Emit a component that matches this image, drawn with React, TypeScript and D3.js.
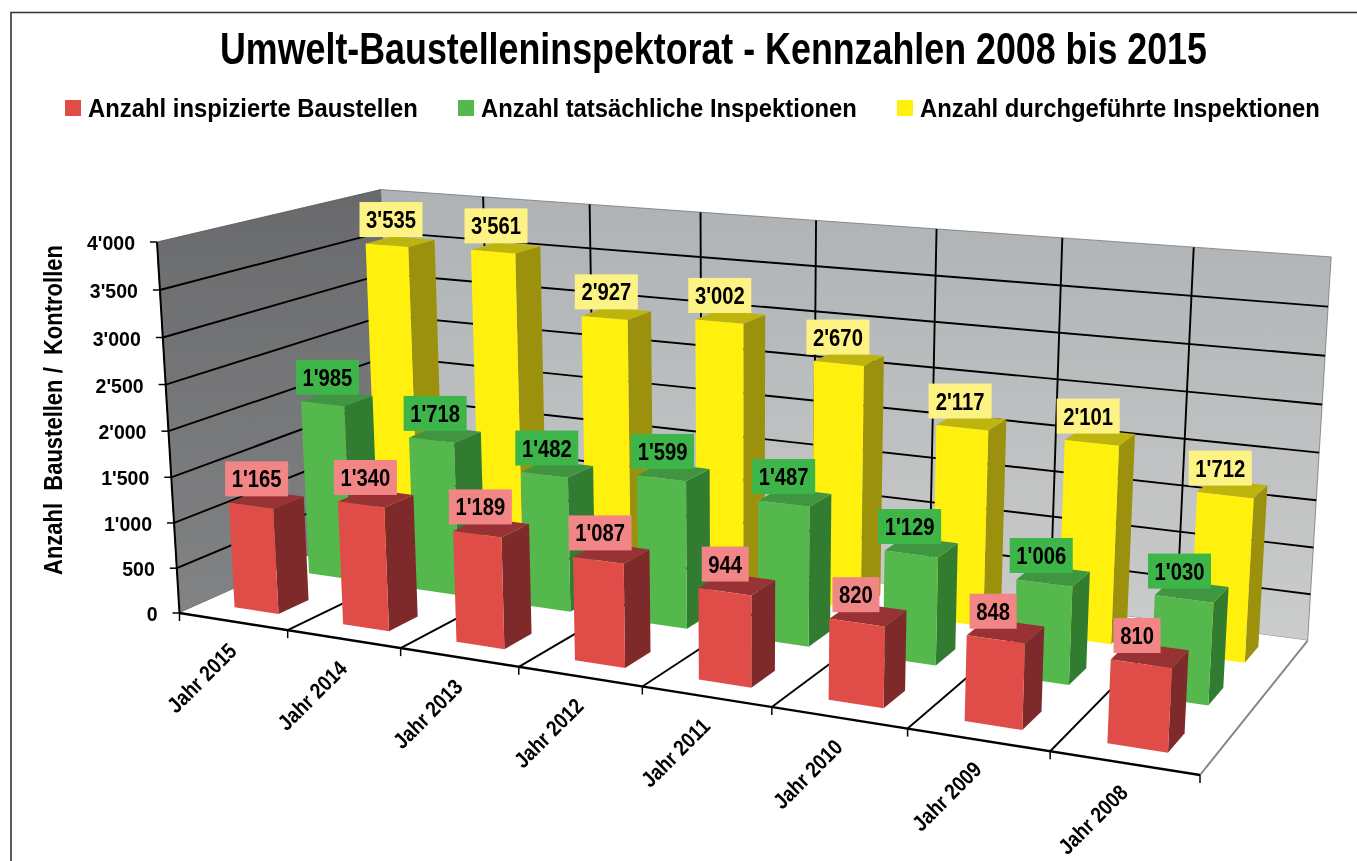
import React from "react";
import * as d3 from "d3";

const years = ["Jahr 2015", "Jahr 2014", "Jahr 2013", "Jahr 2012", "Jahr 2011", "Jahr 2010", "Jahr 2009", "Jahr 2008"];
const seriesNames = ["Anzahl inspizierte Baustellen", "Anzahl tatsächliche Inspektionen", "Anzahl durchgeführte Inspektionen"];
const inspizierte = [1165, 1340, 1189, 1087, 944, 820, 848, 810];
const tatsaechliche = [1985, 1718, 1482, 1599, 1487, 1129, 1006, 1030];
const durchgefuehrte = [3535, 3561, 2927, 3002, 2670, 2117, 2101, 1712];
const yTicks = [0, 500, 1000, 1500, 2000, 2500, 3000, 3500, 4000];
const titleText = "Umwelt-Baustelleninspektorat - Kennzahlen 2008 bis 2015";
const yTitle = "Anzahl  Baustellen /  Kontrollen";

const front = ["#E04E4A", "#55B84E", "#FFF10D"];
const side = ["#7F2A2C", "#317C33", "#9C9110"];
const top = ["#983335", "#3F963F", "#BDB40E"];
const labelBg = ["#F28585", "#3CB54A", "#FDF384"];

const FONT = "'Liberation Sans', Arial, sans-serif";

// Projective camera: model axes X (years), Y (value), Z (depth), all 0..1
const O = [179.5, 613];
const aX = [816.5, 30.25];
const aY = [-28.54, -380.32];
const aZ = [266.8, -24.7];
const wX = -0.17, wY = -0.0385, wZ = 0.1357;
const project = (X: number, Y: number, Z: number): [number, number] => {
  const w = 1 + wX * X + wY * Y + wZ * Z;
  return [
    (O[0] + aX[0] * X + aY[0] * Y + aZ[0] * Z) / w,
    (O[1] + aX[1] * X + aY[1] * Y + aZ[1] * Z) / w,
  ];
};

const xBand = d3.scaleBand<string>().domain(years).range([0, 1]).paddingInner(0.59).paddingOuter(0.295);
const zBand = d3.scaleBand<string>().domain(seriesNames).range([0, 1]).paddingInner(0.6).paddingOuter(0.3);
const yScale = d3.scaleLinear().domain([0, 4000]).range([0, 1]);
const fmt = (v: number) => d3.format(",")(v).replace(/,/g, "'");
const poly = d3.line<[number, number]>();
const face = (pts: [number, number, number][]) => poly(pts.map((p) => project(p[0], p[1], p[2]))) + "Z";

const seg = (a: [number, number, number], b: [number, number, number], stroke = "#000", w = 1.8, k?: string) => {
  const p = project(a[0], a[1], a[2]);
  const q = project(b[0], b[1], b[2]);
  return <line key={k} x1={p[0]} y1={p[1]} x2={q[0]} y2={q[1]} stroke={stroke} strokeWidth={w} />;
};

// horizontal squeeze that makes a bold text fill a measured width
const fit = (text: string, size: number, target: number) => {
  const ctx = document.createElement("canvas").getContext("2d")!;
  ctx.font = `bold ${size}px 'Liberation Sans'`;
  return target / ctx.measureText(text).width;
};

export default function App() {
  const values = [inspizierte, tatsaechliche, durchgefuehrte];
  const step = xBand.step();
  const bars: React.ReactNode[] = [];
  const labels: React.ReactNode[] = [];
  [2, 1, 0].forEach((s) => {
    const z0 = zBand(seriesNames[s])!;
    const z1 = z0 + zBand.bandwidth();
    years.forEach((yr, i) => {
      const x0 = xBand(yr)!;
      const x1 = x0 + xBand.bandwidth();
      const h = yScale(values[s][i]);
      bars.push(
        <g key={`b${s}-${i}`}>
          <path d={face([[x1, 0, z0], [x1, 0, z1], [x1, h, z1], [x1, h, z0]])} fill={side[s]} />
          <path d={face([[x0, h, z0], [x1, h, z0], [x1, h, z1], [x0, h, z1]])} fill={top[s]} />
          <path d={face([[x0, 0, z0], [x1, 0, z0], [x1, h, z0], [x0, h, z0]])} fill={front[s]} />
        </g>
      );
      const fl = project(x0, h, z0);
      const fr = project(x1, h, z0);
      const cx = (fl[0] + fr[0]) / 2;
      const lx = cx + 5 - 0.011 * (cx - 300);
      const text = fmt(values[s][i]);
      const bw = text.length > 3 ? 63 : 47;
      const bh = 35;
      const by = fl[1] - 6.5 - bh;
      labels.push(
        <g key={`l${s}-${i}`}>
          <rect x={lx - bw / 2} y={by} width={bw} height={bh} fill={labelBg[s]} />
          <text transform={`translate(${lx},${by + 26}) scale(0.88,1)`} textAnchor="middle"
            fontFamily={FONT} fontWeight={700} fontSize={23} fill="#000">{text}</text>
        </g>
      );
    });
  });

  const Wall = [[0, 0, 1], [1, 0, 1], [1, 1, 1], [0, 1, 1]] as [number, number, number][];
  const Left = [[0, 0, 0], [0, 0, 1], [0, 1, 1], [0, 1, 0]] as [number, number, number][];
  const Floor = [[0, 0, 0], [1, 0, 0], [1, 0, 1], [0, 0, 1]] as [number, number, number][];

  const legendX = [65, 458, 897];
  const legendW = [330, 376, 400];

  return (
    <svg width={1357} height={861} viewBox="0 0 1357 861"
      style={{ position: "absolute", left: 0, top: 0, background: "#fff", display: "block" }}>
      <defs>
        <linearGradient id="backG" x1="0" y1="0" x2="0" y2="1">
          <stop offset="0" stopColor="#AEB2B4" />
          <stop offset="1" stopColor="#CBCCCC" />
        </linearGradient>
        <linearGradient id="leftG" x1="0" y1="0" x2="0" y2="1">
          <stop offset="0" stopColor="#696A6C" />
          <stop offset="1" stopColor="#828385" />
        </linearGradient>
        <filter id="soft" filterUnits="userSpaceOnUse" x={0} y={0} width={1357} height={861}>
          <feGaussianBlur stdDeviation={0.45} />
        </filter>
      </defs>
      <g filter="url(#soft)">
        <path d="M11 861V12.5H1357" fill="none" stroke="#333" strokeWidth={1.6} />
        <text transform={`translate(220,64) scale(${fit(titleText, 44, 987)},1)`} fontFamily={FONT} fontWeight={700}
          fontSize={44} fill="#000">{titleText}</text>
        {seriesNames.map((n, i) => (
          <g key={n}>
            <rect x={legendX[i]} y={100} width={16} height={16} fill={front[i]} />
            <text transform={`translate(${legendX[i] + 23},116.5) scale(${fit(n, 26, legendW[i])},1)`} fontFamily={FONT}
              fontWeight={700} fontSize={26} fill="#000">{n}</text>
          </g>
        ))}

        <path d={face(Left)} fill="url(#leftG)" stroke="#555" strokeWidth={0.8} />
        <path d={face(Wall)} fill="url(#backG)" stroke="#777" strokeWidth={0.8} />
        <path d={face(Floor)} fill="#fff" />
        {seg([1, 0, 0], [1, 0, 1], "#888", 2, "fr")}

        {yTicks.slice(1, -1).map((t) => (
          <g key={t}>
            {seg([0, yScale(t), 0], [0, yScale(t), 1], "#000", 1.9, "a")}
            {seg([0, yScale(t), 1], [1, yScale(t), 1], "#000", 1.9, "b")}
          </g>
        ))}
        {years.slice(1).map((_, i) => (
          <g key={i}>
            {seg([(i + 1) * step, 0, 0], [(i + 1) * step, 0, 1], "#000", 1.9, "a")}
            {seg([(i + 1) * step, 0, 1], [(i + 1) * step, 1, 1], "#000", 1.9, "b")}
          </g>
        ))}
        {seg([0, 0, 0], [0, 1, 0], "#000", 2, "ya")}
        {seg([0, 0, 0], [1, 0, 0], "#000", 2.4, "xa")}
        {yTicks.map((t) => {
          const p = project(0, yScale(t), 0);
          return (
            <g key={t}>
              <line x1={p[0] - 7} y1={p[1]} x2={p[0]} y2={p[1]} stroke="#000" strokeWidth={1.5} />
              <text transform={`translate(${p[0] - 22},${p[1] + 8}) scale(0.93,1)`} textAnchor="end"
                fontFamily={FONT} fontWeight={700} fontSize={21} fill="#000">{fmt(t)}</text>
            </g>
          );
        })}
        {d3.range(0, years.length + 1).map((i) => {
          const p = project(i * step, 0, 0);
          return <line key={i} x1={p[0]} y1={p[1]} x2={p[0]} y2={p[1] + 8} stroke="#000" strokeWidth={1.5} />;
        })}
        {years.map((yr) => {
          const p = project(xBand(yr)! + xBand.bandwidth() / 2, 0, 0);
          return (
            <text key={yr} transform={`translate(${p[0] + 5},${p[1] + 31}) rotate(-45) scale(0.86,1)`} textAnchor="end"
              fontFamily={FONT} fontWeight={700} fontSize={22} fill="#000">{yr}</text>
          );
        })}
        <text transform={`translate(62,575) rotate(-90) scale(${fit(yTitle, 26, 330)},1)`} fontFamily={FONT} fontWeight={700}
          fontSize={26} style={{ whiteSpace: "pre" }} fill="#000">{yTitle}</text>

        {bars}
        {labels}
      </g>
    </svg>
  );
}
